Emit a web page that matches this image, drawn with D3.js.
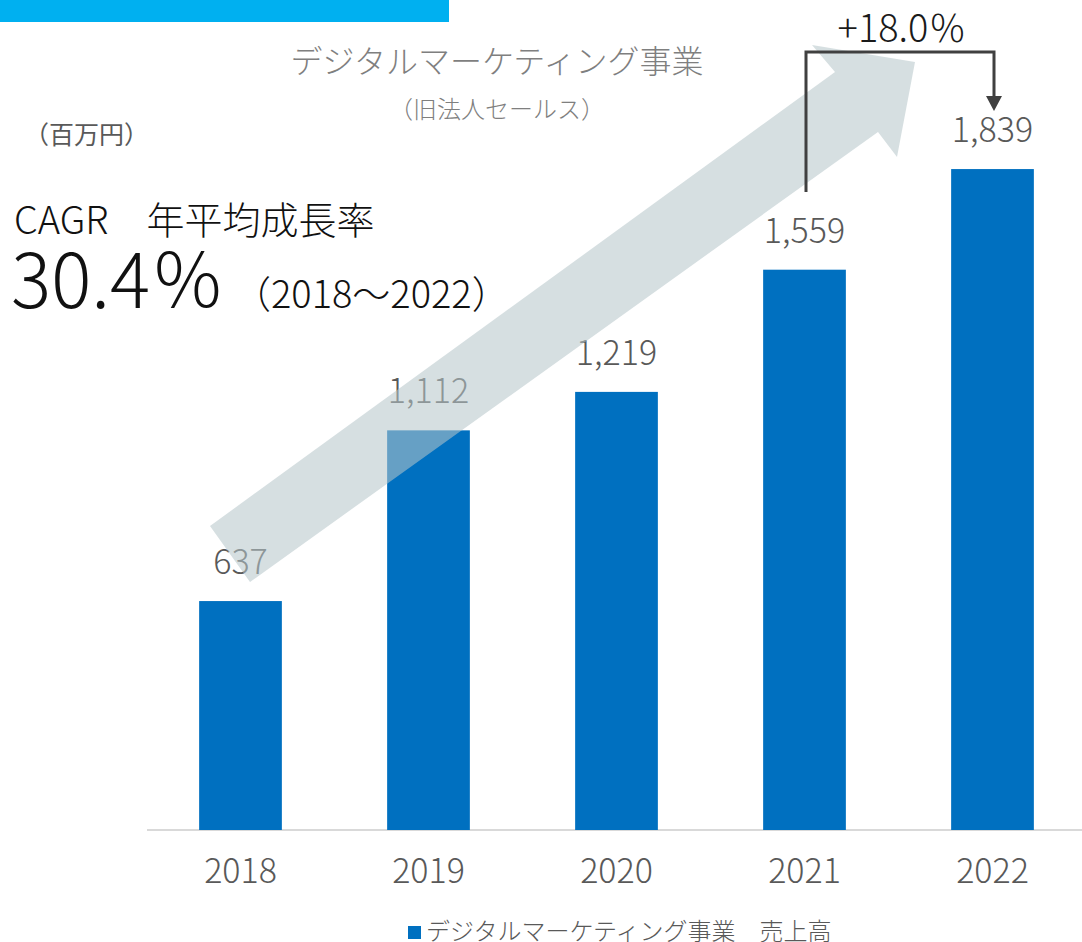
<!DOCTYPE html>
<html lang="ja">
<head>
<meta charset="utf-8">
<script src="https://cdn.jsdelivr.net/npm/d3@7/dist/d3.min.js"></script>
<style>
  html, body { margin: 0; padding: 0; background: #fff; }
  svg { display: block; }
  svg text { font-family: "Noto Sans CJK JP", "Noto Sans", sans-serif; }
</style>
</head>
<body>
<svg id="chart" width="1082" height="942"></svg>
<script>
// Sales of the digital marketing business (million yen)
const years = ["2018", "2019", "2020", "2021", "2022"];
const sales = [637, 1112, 1219, 1559, 1839];
const seriesName = "デジタルマーケティング事業　売上高";
const titleText = "デジタルマーケティング事業";
const subtitleText = "（旧法人セールス）";
const unitText = "（百万円）";
const cagrLabel = "CAGR　年平均成長率";
const cagrValue = "30.4％";
const cagrPeriod = "（2018〜2022）";
const yoyText = "+18.0％";

const W = 1082, H = 942;
const baseY = 830;
const svg = d3.select("#chart");

const x = d3.scaleBand()
  .domain(years)
  .range([146.5, 1086.5])
  .paddingInner(0.56)
  .paddingOuter(0.28);

const y = d3.scaleLinear()
  .domain([0, 2000])
  .range([baseY, baseY - 718.8]);

const barColor = "#0070c0";
const textGray = "#595959";

// accent strip at the top
svg.append("rect").attr("x", 0).attr("y", 0).attr("width", 449).attr("height", 22).attr("fill", "#00b0f0");

// category axis
const xAxis = svg.append("g").attr("transform", `translate(0,${baseY})`)
  .call(d3.axisBottom(x).tickSize(0).tickPadding(0));
xAxis.attr("font-family", null).attr("font-size", null);
xAxis.select(".domain").remove();
xAxis.selectAll("text")
  .attr("y", 53).attr("dy", null)
  .attr("fill", textGray)
  .style("font-size", "34px").style("font-weight", 300);
svg.append("line").attr("x1", 147).attr("x2", W).attr("y1", baseY).attr("y2", baseY)
  .attr("stroke", "#d9d9d9").attr("stroke-width", 2);

// bars
svg.append("g").selectAll("rect").data(sales).join("rect")
  .attr("x", (d, i) => x(years[i]))
  .attr("width", x.bandwidth())
  .attr("y", d => y(d))
  .attr("height", d => baseY - y(d))
  .attr("fill", barColor);

// value labels
svg.append("g").selectAll("text").data(sales).join("text")
  .attr("x", (d, i) => x(years[i]) + x.bandwidth() / 2)
  .attr("y", d => y(d) - 27)
  .attr("text-anchor", "middle")
  .attr("fill", textGray)
  .style("font-size", "34px").style("font-weight", 300)
  .text(d3.format(","));

// growth arrow overlay
const growthArrow = [[210, 526], [835, 72], [812, 45], [915, 62], [897, 157], [878, 132], [250, 582]];
svg.append("path")
  .attr("d", d3.line()(growthArrow) + "Z")
  .attr("fill", "rgb(182,198,202)")
  .attr("fill-opacity", 0.56);

// year-over-year bracket from 2021 to 2022
const bx1 = x("2021") + x.bandwidth() / 2 + 1.5;
const bx2 = x("2022") + x.bandwidth() / 2 + 1.5;
const bTop = 52;
svg.append("path")
  .attr("d", `M${bx1},192 V${bTop} H${bx2} V98`)
  .attr("fill", "none").attr("stroke", "#404040").attr("stroke-width", 3);
svg.append("path")
  .attr("d", `M${bx2 - 8},96 L${bx2 + 8},96 L${bx2},111 Z`)
  .attr("fill", "#404040");
svg.append("text")
  .attr("x", (bx1 + bx2) / 2 + 2).attr("y", 42)
  .attr("text-anchor", "middle").attr("fill", "#1a1a1a")
  .style("font-size", "38px").style("font-weight", 300)
  .text(yoyText);

// titles
svg.append("text").attr("x", 497).attr("y", 59).attr("dominant-baseline", "central")
  .attr("text-anchor", "middle").attr("fill", "#7f7f7f")
  .style("font-size", "32px").style("font-weight", 300).text(titleText);
svg.append("text").attr("x", 497).attr("y", 107).attr("dominant-baseline", "central")
  .attr("text-anchor", "middle").attr("fill", "#7f7f7f")
  .style("font-size", "24px").style("font-weight", 300).text(subtitleText);
svg.append("text").attr("x", 24).attr("y", 133).attr("dominant-baseline", "central")
  .attr("fill", textGray)
  .style("font-size", "25px").style("font-weight", 400).text(unitText);

// CAGR annotation
svg.append("text").attr("x", 14).attr("y", 217).attr("dominant-baseline", "central")
  .attr("fill", "#111")
  .style("font-size", "38px").style("font-weight", 300).text(cagrLabel);
svg.append("text").attr("x", 11).attr("y", 308)
  .attr("fill", "#111")
  .style("font-size", "75px").style("font-weight", 300).text(cagrValue);
svg.append("text").attr("x", 233).attr("y", 308)
  .attr("fill", "#111")
  .style("font-size", "38px").style("font-weight", 300).text(cagrPeriod);

// legend
svg.append("rect").attr("x", 408).attr("y", 926).attr("width", 13).attr("height", 13).attr("fill", barColor);
svg.append("text").attr("x", 426).attr("y", 929).attr("dominant-baseline", "central")
  .attr("fill", textGray)
  .style("font-size", "24px").style("font-weight", 300).text(seriesName);
</script>
</body>
</html>
